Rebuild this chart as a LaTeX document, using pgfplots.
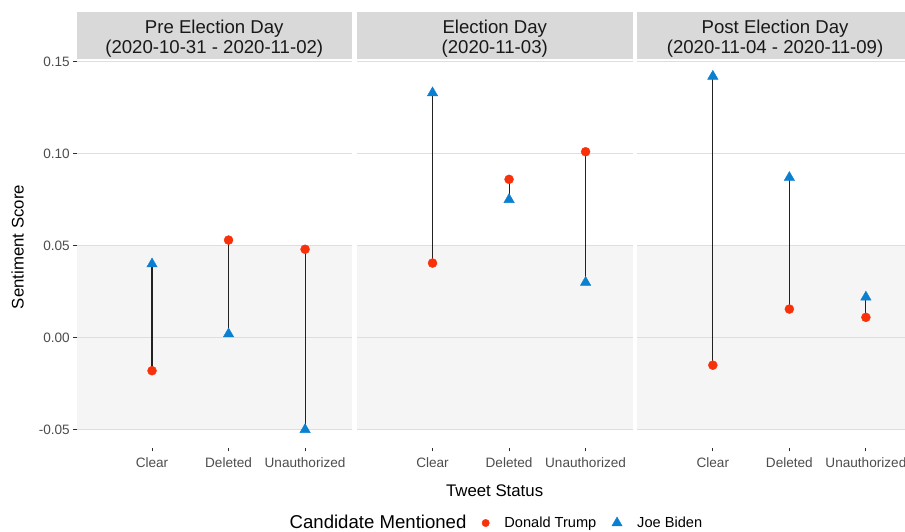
\documentclass[border=0pt]{standalone}
\usepackage{pgfplots}
\pgfplotsset{compat=1.18}
\usepackage{pgfplotstable}
\usepackage{fontspec}
\setmainfont{Liberation Sans}
\definecolor{trump}{HTML}{F8310B}
\definecolor{biden}{HTML}{0B80D0}
\definecolor{stripgrey}{HTML}{D9D9D9}
\definecolor{panelgrey}{HTML}{F5F5F5}
\definecolor{gridgrey}{HTML}{DEDEDE}
\definecolor{tickgrey}{HTML}{4D4D4D}
\definecolor{segcol}{HTML}{222222}

% Pre Election Day
\pgfplotstableread{
x trump biden
1 -0.018 0.040
2 0.053 0.002
3 0.048 -0.050
}\predata
% Election Day
\pgfplotstableread{
x trump biden
1 0.0405 0.133
2 0.086 0.075
3 0.101 0.030
}\edaydata
% Post Election Day
\pgfplotstableread{
x trump biden
1 -0.015 0.142
2 0.0155 0.087
3 0.011 0.022
}\postdata

\pgfplotsset{
  panel/.style={
    set layers, scale only axis, width=275.5bp, height=388.8bp,
    anchor=south west,
    xmin=0.013, xmax=3.613, ymin=-0.06, ymax=0.1513,
    axis line style={draw=none},
    xtick={1,2,3}, xticklabels={Clear,Deleted,Unauthorized},
    ytick={-0.05,0,0.05,0.10,0.15},
    ymajorgrids, major grid style={gridgrey, line width=1.2bp},
    tick align=outside, xtick pos=bottom, ytick pos=left,
    major tick length=3.5bp,
    tick style={tickgrey!60!black, line width=0.8bp},
    xticklabel style={font=\fontsize{13.6bp}{15bp}\selectfont, text=tickgrey, anchor=base, inner sep=0pt, yshift=-16bp},
    yticklabel style={font=\fontsize{13.6bp}{15bp}\selectfont, text=tickgrey, anchor=east, inner sep=0pt, xshift=-3bp},
    unbounded coords=jump,
    clip=false,
  },
  bgrect/.style={fill=panelgrey, draw=none, on layer=axis background, forget plot},
  segline/.style={segcol, line width=1.1bp, forget plot},
  trumpmark/.style={only marks, mark=*, color=trump, mark size=4.5bp, forget plot},
  bidenmark/.style={only marks, mark=triangle*, color=biden, mark size=6bp, forget plot},
}

\begin{document}
\begin{tikzpicture}

% Panel 1
\begin{axis}[panel, at={(76.5bp,84bp)},
  yticklabels={-0.05,0.00,0.05,0.10,0.15}]
  \addplot[bgrect] coordinates {(0.013,-0.05) (3.613,-0.05) (3.613,0.05) (0.013,0.05)} -- cycle;
  \addplot[segline] coordinates {(1,-0.018) (1,0.040) (1,nan) (2,0.053) (2,0.002) (2,nan) (3,0.048) (3,-0.050)};
  \addplot[trumpmark] table[x=x,y=trump] {\predata};
  \addplot[bidenmark] table[x=x,y=biden] {\predata};
\end{axis}

% Panel 2
\begin{axis}[panel, at={(357bp,84bp)},
  yticklabels={}, ytick style={draw=none},
  legend style={at={(0.477,-0.1929)}, anchor=center, draw=none, fill=none,
    legend columns=-1, column sep=0pt, nodes={inner sep=0pt},
    /tikz/every odd column/.append style={column sep=15bp},
    /tikz/every even column/.append style={column sep=15.5bp},
    font=\fontsize{14.6bp}{16bp}\selectfont}]
  \addplot[bgrect] coordinates {(0.013,-0.05) (3.613,-0.05) (3.613,0.05) (0.013,0.05)} -- cycle;
  \addplot[segline] coordinates {(1,0.0405) (1,0.133) (1,nan) (2,0.086) (2,0.075) (2,nan) (3,0.101) (3,0.030)};
  \addplot[trumpmark] table[x=x,y=trump] {\edaydata};
  \addplot[bidenmark] table[x=x,y=biden] {\edaydata};
  \addlegendimage{empty legend}
  \addlegendentry{\fontsize{18.6bp}{20bp}\selectfont Candidate Mentioned}
  \addlegendimage{only marks, mark=*, color=trump, mark size=3.7bp}
  \addlegendentry{Donald Trump}
  \addlegendimage{only marks, mark=triangle*, color=biden, mark size=6bp}
  \addlegendentry{Joe Biden}
\end{axis}

% Panel 3
\begin{axis}[panel, at={(637.3bp,84bp)},
  yticklabels={}, ytick style={draw=none}]
  \addplot[bgrect] coordinates {(0.013,-0.05) (3.613,-0.05) (3.613,0.05) (0.013,0.05)} -- cycle;
  \addplot[segline] coordinates {(1,-0.015) (1,0.142) (1,nan) (2,0.0155) (2,0.087) (2,nan) (3,0.011) (3,0.022)};
  \addplot[trumpmark] table[x=x,y=trump] {\postdata};
  \addplot[bidenmark] table[x=x,y=biden] {\postdata};
\end{axis}

% Strips
\fill[stripgrey] (76.5bp,472.7bp) rectangle (352bp,520.3bp);
\fill[stripgrey] (357bp,472.7bp) rectangle (632.5bp,520.3bp);
\fill[stripgrey] (637.3bp,472.7bp) rectangle (912.8bp,520.3bp);
\begin{scope}[every node/.style={font=\fontsize{18.6bp}{20bp}\selectfont, text={black!90}, anchor=base, inner sep=0pt}]
\node at (214.25bp,498.7bp) {Pre Election Day};
\node at (214.25bp,478.7bp) {(2020-10-31 - 2020-11-02)};
\node at (494.75bp,498.7bp) {Election Day};
\node at (494.75bp,478.7bp) {(2020-11-03)};
\node at (775.05bp,498.7bp) {Post Election Day};
\node at (775.05bp,478.7bp) {(2020-11-04 - 2020-11-09)};
\end{scope}

% Axis titles
\node[font=\fontsize{16.8bp}{18bp}\selectfont, anchor=base, inner sep=0pt, rotate=90] at (23.5bp,285bp) {Sentiment Score};
\node[font=\fontsize{16.8bp}{18bp}\selectfont, anchor=base, inner sep=0pt] at (494.6bp,36bp) {Tweet Status};

\pgfresetboundingbox
\useasboundingbox (0,0) rectangle (905bp,532bp);
\end{tikzpicture}
\end{document}
